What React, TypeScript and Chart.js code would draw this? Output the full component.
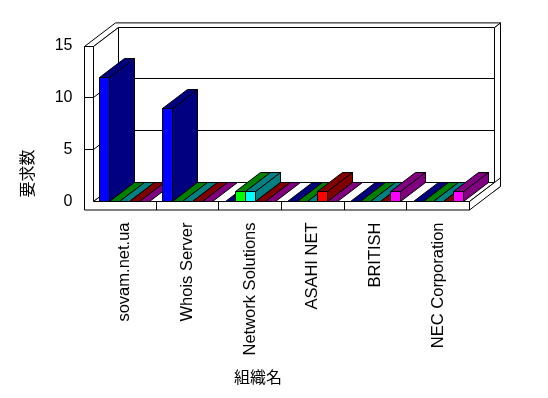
import React, { useEffect, useRef } from "react";
import { Chart, registerables } from "chart.js";

Chart.register(...registerables);

// ---- data ----
const categories = [
  "sovam.net.ua",
  "Whois Server",
  "Network Solutions",
  "ASAHI NET",
  "BRITISH",
  "NEC Corporation",
];
const seriesNames = ["系列1", "系列2", "系列3", "系列4", "系列5"];
const series1 = [12, 9, 0, 0, 0, 0];
const series2 = [0, 0, 1, 0, 0, 0];
const series3 = [0, 0, 1, 0, 0, 0];
const series4 = [0, 0, 0, 1, 0, 0];
const series5 = [0, 0, 0, 0, 1, 1];
const yTickValues = [0, 5, 10, 15];
const yTitle = "要求数";
const xTitle = "組織名";

// ---- styles ----
const frontColors = ["#0000FF", "#00FF00", "#00FFFF", "#FF0000", "#FF00FF"];
const darkColors = ["#000080", "#008000", "#008080", "#800000", "#800080"];
const LATIN = '"Liberation Sans", Arial, sans-serif';
const CJK = '"Noto Sans CJK JP", "Noto Sans CJK SC", sans-serif';

// 3D geometry
const DX = 25;
const DY = -19;
const TX = 6;
const TY = -4.6;
const WALL = 9;
const FLOOR = 8.5;

const h = (v: number) => Math.round(v - 0.5) + 0.5;

function poly(ctx: CanvasRenderingContext2D, pts: number[][], fill?: string) {
  ctx.beginPath();
  ctx.moveTo(pts[0][0], pts[0][1]);
  for (let i = 1; i < pts.length; i++) ctx.lineTo(pts[i][0], pts[i][1]);
  ctx.closePath();
  if (fill) {
    ctx.fillStyle = fill;
    ctx.fill();
  }
  ctx.stroke();
}

function line(ctx: CanvasRenderingContext2D, x0: number, y0: number, x1: number, y1: number) {
  ctx.beginPath();
  ctx.moveTo(x0, y0);
  ctx.lineTo(x1, y1);
  ctx.stroke();
}

const frame3d = {
  id: "frame3d",
  beforeDatasetsDraw(chart: any) {
    const ctx: CanvasRenderingContext2D = chart.ctx;
    const ca = chart.chartArea;
    const L = h(ca.left), R = h(ca.right), T = h(ca.top), B = h(ca.bottom);
    const ys = chart.scales.y;
    const xs = chart.scales.x;
    const inner = yTickValues.filter((v) => v > ys.min && v < ys.max).map((v) => h(ys.getPixelForValue(v)));
    ctx.save();
    ctx.lineWidth = 1;
    ctx.strokeStyle = "#000";
    // back wall right strip
    poly(ctx, [[R + DX, T + DY], [R + DX + TX, T + DY + TY], [R + DX + TX, B + DY + TY + FLOOR], [R + DX, B + DY + FLOOR]], "#fff");
    // back plane
    poly(ctx, [[L + DX, T + DY], [R + DX, T + DY], [R + DX, B + DY], [L + DX, B + DY]], "#fff");
    inner.forEach((yy) => line(ctx, L + DX, yy + DY, R + DX, yy + DY));
    // top strip (left wall top + back wall top)
    poly(ctx, [[L - WALL, T], [L - WALL + DX + TX, T + DY + TY], [R + DX + TX, T + DY + TY], [R + DX, T + DY], [L + DX, T + DY], [L, T]], "#fff");
    // left wall inner face
    poly(ctx, [[L, T], [L + DX, T + DY], [L + DX, B + DY], [L, B]], "#fff");
    inner.forEach((yy) => line(ctx, L, yy, L + DX, yy + DY));
    // floor top
    poly(ctx, [[L, B], [R, B], [R + DX, B + DY], [L + DX, B + DY]], "#fff");
    // front faces (wall + floor)
    poly(ctx, [[L - WALL, T], [L, T], [L, B], [R, B], [R, B + FLOOR], [L - WALL, B + FLOOR]], "#fff");
    inner.forEach((yy) => line(ctx, L - WALL, yy, L, yy));
    for (let j = 1; j < categories.length; j++) {
      const xb = h((xs.getPixelForValue(j - 1) + xs.getPixelForValue(j)) / 2);
      line(ctx, xb, B, xb, B + FLOOR);
    }
    // floor right side
    poly(ctx, [[R, B], [R + DX + TX, B + DY + TY], [R + DX + TX, B + DY + TY + FLOOR], [R, B + FLOOR]], "#fff");
    ctx.restore();
  },
  afterDatasetsDraw(chart: any) {
    const ctx: CanvasRenderingContext2D = chart.ctx;
    const nSets = chart.data.datasets.length;
    ctx.save();
    ctx.lineWidth = 1;
    ctx.strokeStyle = "#000";
    for (let j = 0; j < categories.length; j++) {
      for (let i = 0; i < nSets; i++) {
        const el = chart.getDatasetMeta(i).data[j];
        if (!el) continue;
        const p = el.getProps(["x", "y", "base", "width"], true);
        const x0 = h(p.x - p.width / 2);
        const x1 = h(p.x + p.width / 2);
        const yt = h(p.y);
        const yb = h(p.base);
        const dark = darkColors[i % darkColors.length];
        const front = frontColors[i % frontColors.length];
        if (yt < yb - 0.5) {
          poly(ctx, [[x1, yt], [x1 + DX, yt + DY], [x1 + DX, yb + DY], [x1, yb]], dark);
          poly(ctx, [[x0, yt], [x1, yt], [x1 + DX, yt + DY], [x0 + DX, yt + DY]], dark);
          poly(ctx, [[x0, yt], [x1, yt], [x1, yb], [x0, yb]], front);
        } else {
          poly(ctx, [[x0, yb], [x1, yb], [x1 + DX, yb + DY], [x0 + DX, yb + DY]], dark);
        }
      }
    }
    ctx.restore();
  },
  afterDraw(chart: any) {
    const ctx: CanvasRenderingContext2D = chart.ctx;
    const ca = chart.chartArea;
    ctx.save();
    ctx.fillStyle = "#000";
    ctx.font = `16px ${CJK}`;
    ctx.textAlign = "center";
    ctx.textBaseline = "middle";
    // y title
    ctx.save();
    ctx.translate(27, ca.bottom - 28);
    ctx.rotate(-Math.PI / 2);
    ctx.fillText(yTitle, 0, 0);
    ctx.restore();
    // x title
    ctx.fillText(xTitle, 258, 377);
    ctx.restore();
  },
};

export default function App() {
  const ref = useRef<HTMLCanvasElement>(null);
  useEffect(() => {
    const values = [series1, series2, series3, series4, series5];
    const chart = new Chart(ref.current as HTMLCanvasElement, {
      type: "bar",
      data: {
        labels: categories,
        datasets: values.map((d, i) => ({
          label: seriesNames[i],
          data: d,
          backgroundColor: "rgba(0,0,0,0)",
          borderWidth: 0,
          categoryPercentage: 0.8,
          barPercentage: 1,
        })),
      },
      options: {
        responsive: false,
        animation: false,
        devicePixelRatio: 1,
        layout: { padding: { left: 0, right: 78.5, top: 46, bottom: 0 } },
        plugins: { legend: { display: false }, tooltip: { enabled: false } },
        scales: {
          x: {
            grid: { display: false, drawTicks: false },
            border: { display: false },
            ticks: {
              autoSkip: false,
              maxRotation: 90,
              minRotation: 90,
              padding: 21,
              color: "#000",
              font: { family: LATIN, size: 16.5 },
            },
            afterFit: (s: any) => {
              s.height = 196.5;
            },
          },
          y: {
            min: 0,
            max: 15,
            grid: { display: false, drawTicks: false },
            border: { display: false },
            ticks: {
              stepSize: 5,
              padding: 21,
              color: "#000",
              font: { family: LATIN, size: 16 },
            },
            afterFit: (s: any) => {
              s.width = 93.5;
            },
          },
        },
      } as any,
      plugins: [frame3d],
    });
    return () => chart.destroy();
  }, []);
  return (
    <div style={{ position: "fixed", left: 0, top: 0, width: 548, height: 398, background: "#fff" }}>
      <canvas ref={ref} width={548} height={398} style={{ display: "block" }} />
    </div>
  );
}
